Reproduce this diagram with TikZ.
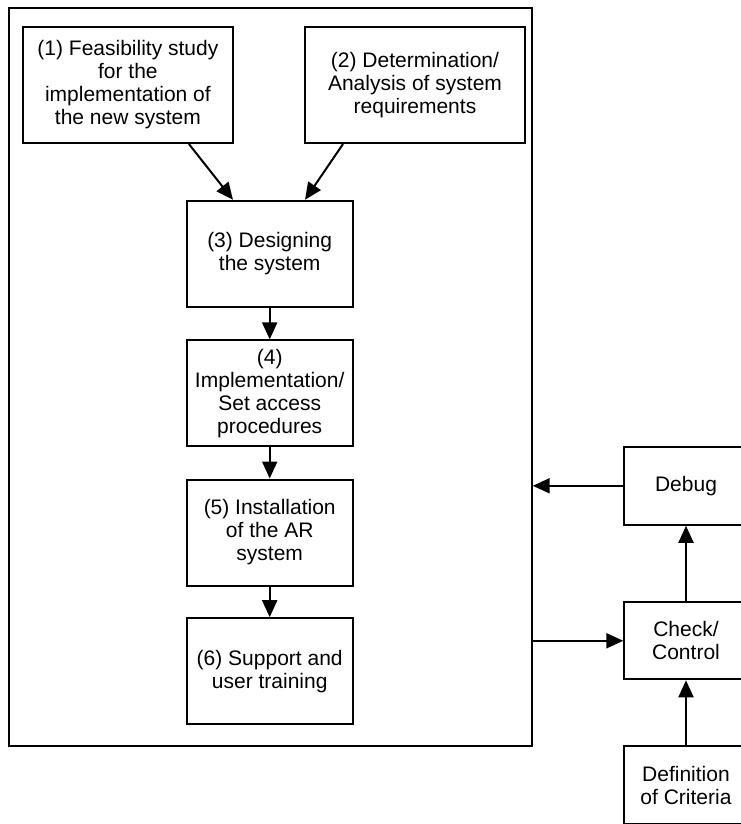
\documentclass[tikz,border=0pt]{standalone}
\usepackage{fontspec}
\setmainfont{Liberation Sans}
\usetikzlibrary{arrows.meta}

\begin{document}
\begin{tikzpicture}[x=1pt, y=-1pt,
  stage/.style={draw, line width=2pt, align=center, inner sep=0pt,
    font=\fontsize{21}{23}\selectfont},
  flow/.style={-{Triangle[length=17pt,width=15pt]}, line width=2pt}]
\clip (0,0) rectangle (741,824);
\node[stage, minimum width=522.7pt, minimum height=738pt] (phase) at (270.35,377) {};
\node[stage, minimum width=210pt, minimum height=116pt] (study) at (127.9,85)
  {(1) Feasibility study\\for the\\implementation of\\the new system};
\node[stage, minimum width=220pt, minimum height=116pt] (reqs) at (415,85)
  {(2) Determination/\\Analysis of system\\requirements};
\node[stage, minimum width=166pt, minimum height=106pt] (design) at (269.7,253.8)
  {(3) Designing\\the system};
\node[stage, minimum width=166pt, minimum height=106pt] (impl) at (269.7,393.4)
  {(4)\\Implementation/\\Set access\\procedures};
\node[stage, minimum width=166pt, minimum height=106pt] (install) at (269.7,532.5)
  {(5) Installation\\of the AR\\system};
\node[stage, minimum width=166pt, minimum height=106pt] (support) at (269.7,671.2)
  {(6) Support and\\user training};
\node[stage, minimum width=123.4pt, minimum height=78pt] (debug) at (686,485.8)
  {Debug};
\node[stage, minimum width=123.4pt, minimum height=77pt] (check) at (686,640.8)
  {Check/\\Control};
\node[stage, minimum width=123.4pt, minimum height=78pt] (crit) at (686,785)
  {Definition\\of Criteria};

\draw[flow] ([xshift=61pt]study.south) -- ([xshift=-36.7pt]design.north);
\draw[flow] ([xshift=-72pt]reqs.south) -- ([xshift=35.3pt]design.north);
\draw[flow] (design) -- (impl);
\draw[flow] (impl) -- (install);
\draw[flow] (install) -- (support);
\draw[flow] (debug.west) -- (debug.west -| phase.east);
\draw[flow] (check.west -| phase.east) -- (check.west);
\draw[flow] (check) -- (debug);
\draw[flow] (crit) -- (check);
\end{tikzpicture}
\end{document}
